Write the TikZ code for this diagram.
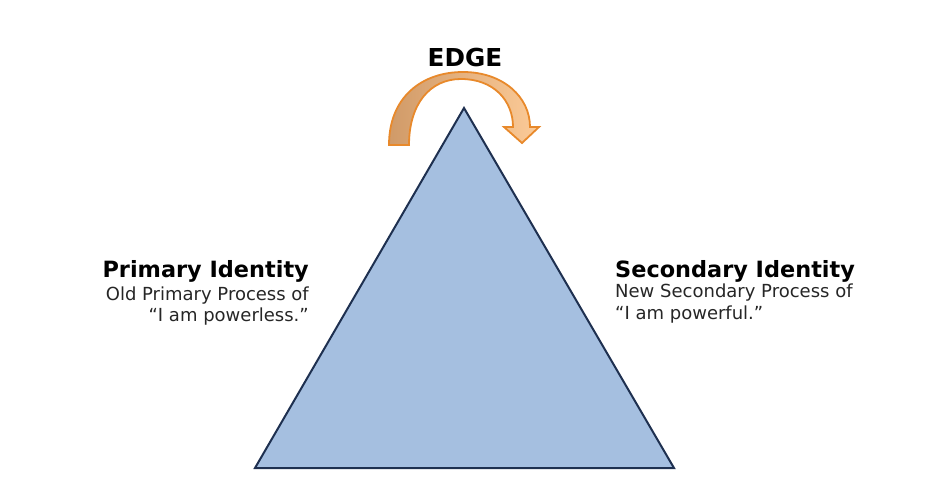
\documentclass[tikz,border=0pt]{standalone}
\usepackage{fontspec}
\setmainfont{DejaVu Sans}
\begin{document}
\begin{tikzpicture}[x=1pt,y=-1pt,
  title/.style={font=\fontsize{22.4}{26}\selectfont\bfseries, text=black, inner sep=0pt},
  sub/.style={font=\fontsize{18}{21}\selectfont, text=black!85, inner sep=0pt}]
\definecolor{tri}{HTML}{A5BFE0}
\definecolor{triline}{HTML}{1E3050}
\definecolor{arrline}{HTML}{E8892B}
\definecolor{arrdark}{HTML}{D09A68}
\definecolor{arrlight}{HTML}{FCCB98}
\useasboundingbox (0,0) rectangle (950,494);
% triangle
\draw[triline, line width=2pt, fill=tri, line join=miter]
  (464,108) -- (674,468) -- (255,468) -- cycle;
% curved arrow
\draw[arrline, line width=1.8pt, line join=miter, left color=arrdark, right color=arrlight]
  (389,145) .. controls (389,97) and (422,72) .. (463,72)
  .. controls (503,72) and (530,97) .. (530,127)
  -- (539,127) -- (522,143) -- (504,127) -- (513,127)
  .. controls (513,100) and (493,79) .. (461,79)
  .. controls (430,79) and (409,104) .. (409,145) -- cycle;
% labels
\node[font=\fontsize{24.7}{28}\selectfont\bfseries, inner sep=0pt, anchor=base] (edge) at (465,67) {EDGE};
\node[title, anchor=base east] (pt) at (309,278) {Primary Identity};
\node[sub, anchor=base east] (p1) at (309,300) {Old Primary Process of};
\node[sub, anchor=base east] (p2) at (309,321) {“I am powerless.”};
\node[title, anchor=base west] (st) at (615,278) {Secondary Identity};
\node[sub, anchor=base west] (s1) at (615,298) {New Secondary Process of};
\node[sub, anchor=base west] (s2) at (615,319) {“I am powerful.”};
\end{tikzpicture}
\end{document}
